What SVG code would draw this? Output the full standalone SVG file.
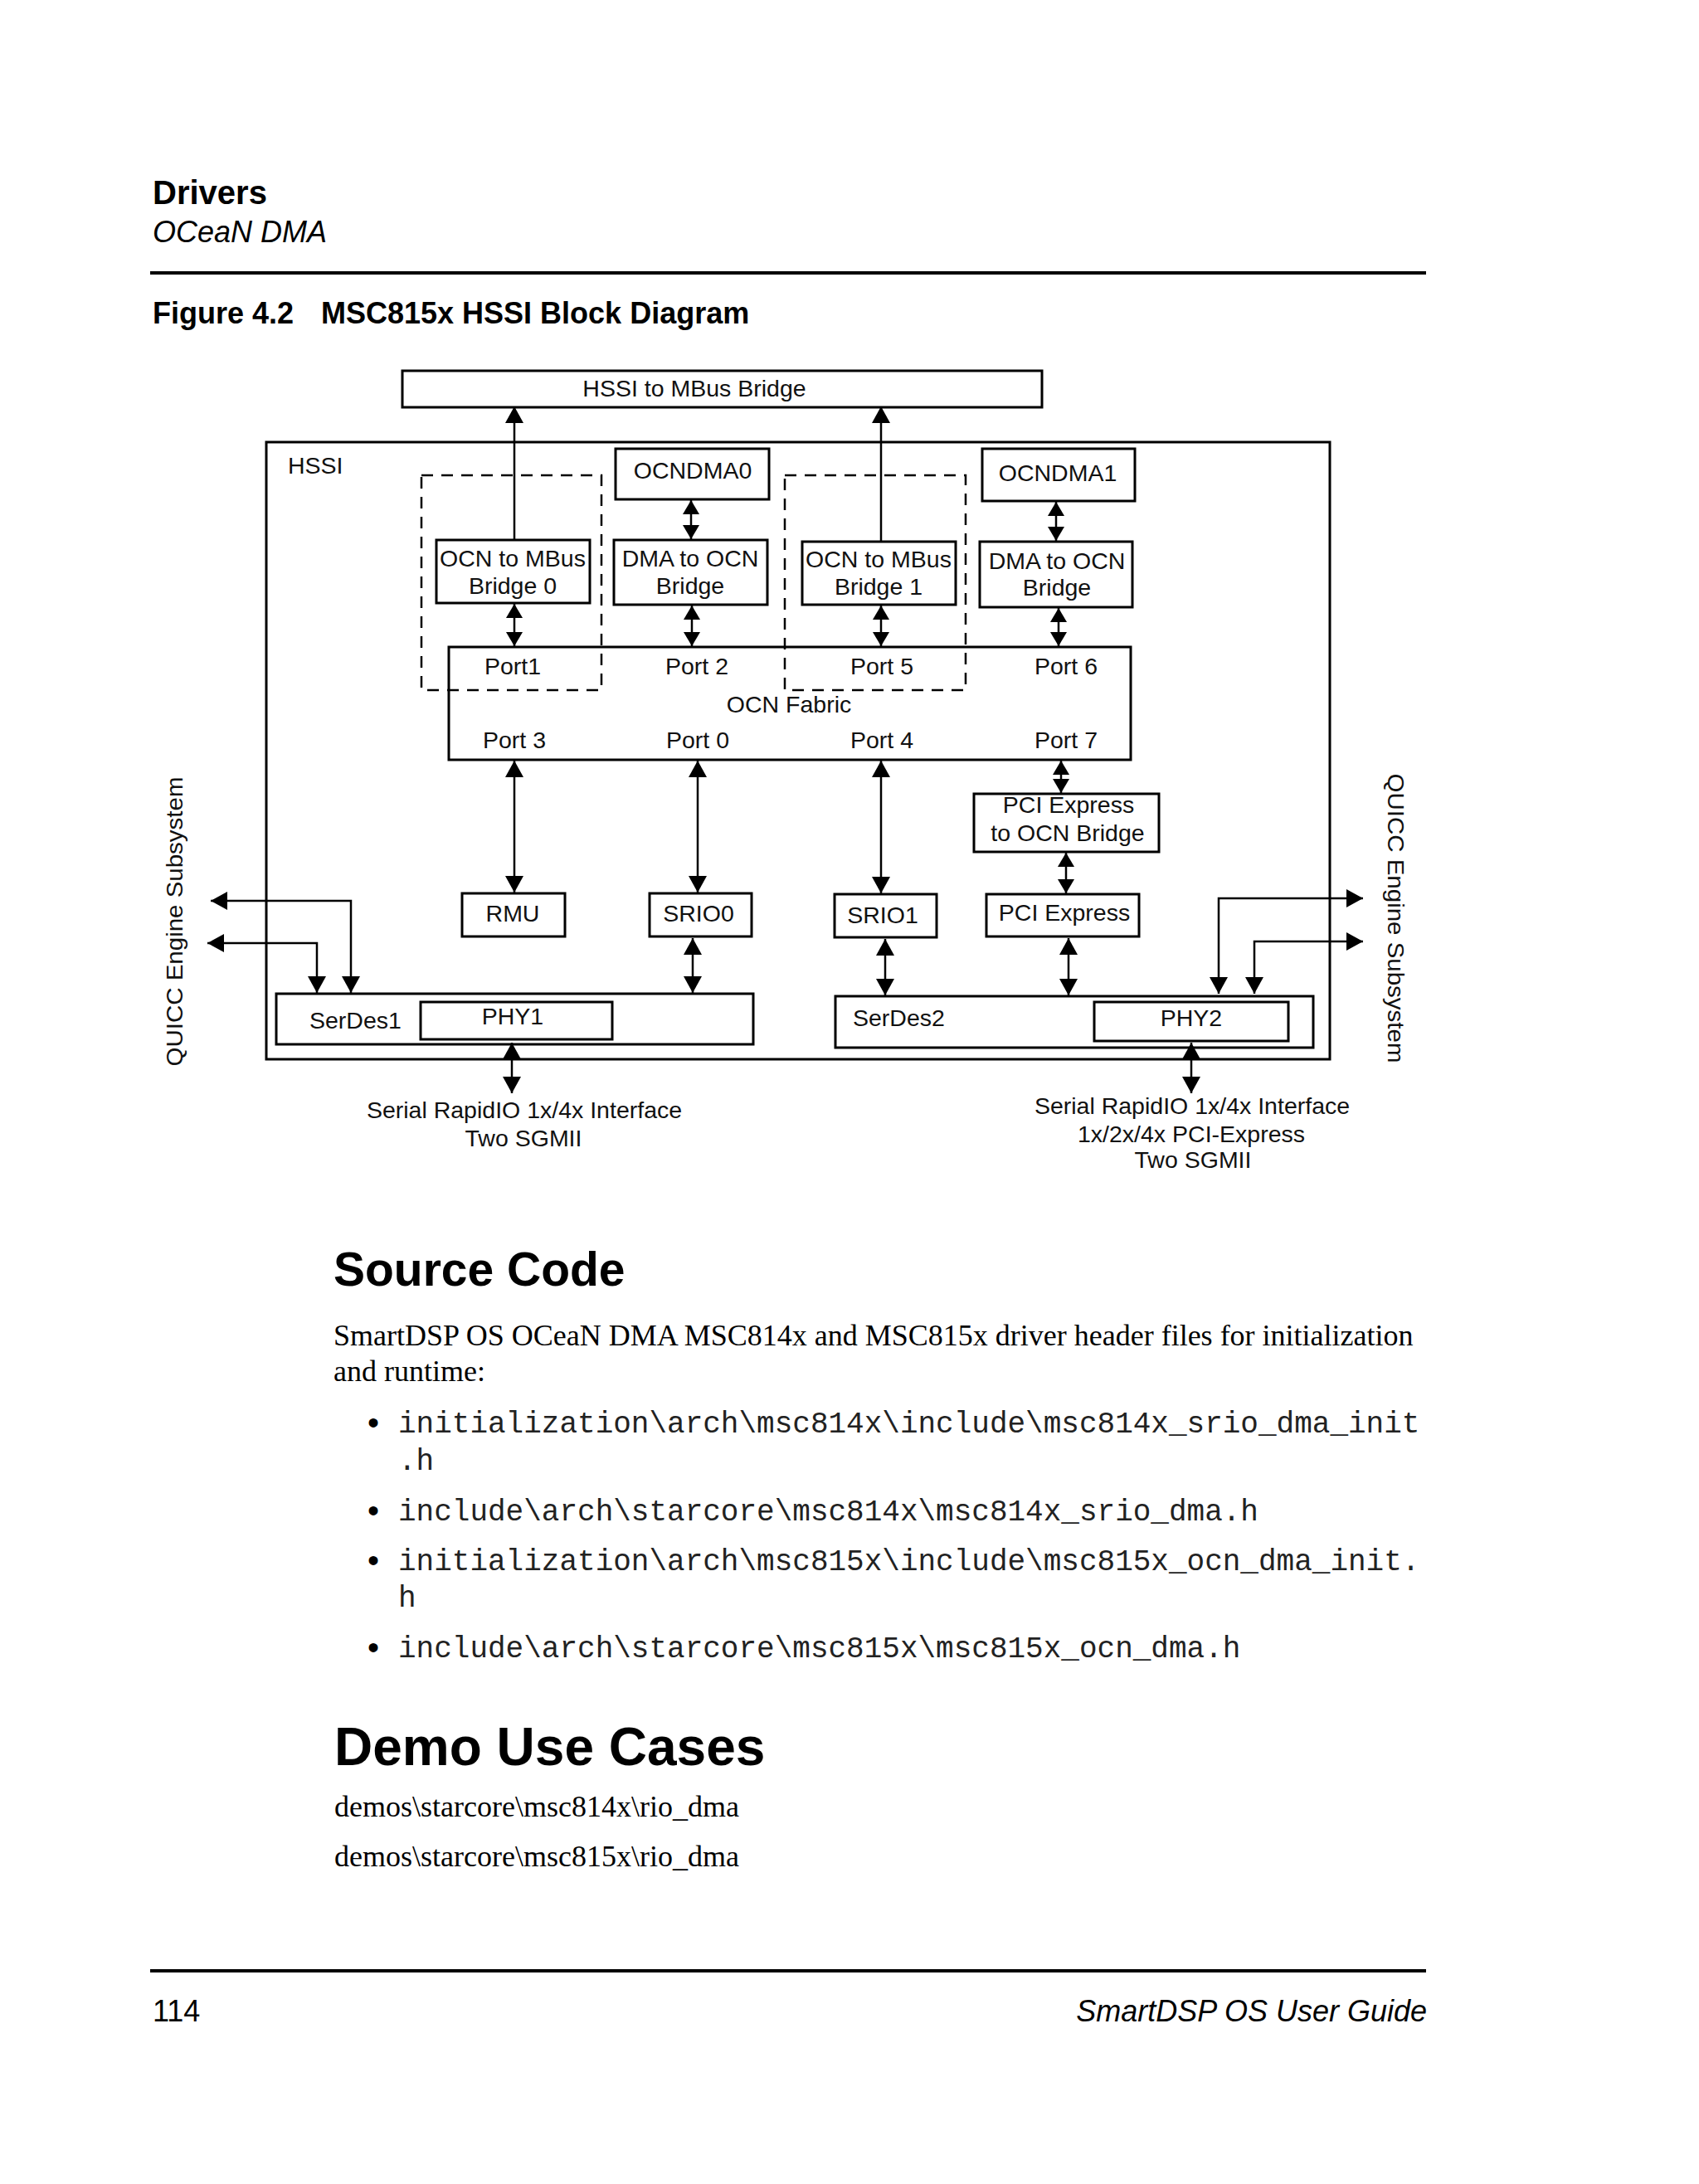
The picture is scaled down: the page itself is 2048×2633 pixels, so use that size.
<svg xmlns="http://www.w3.org/2000/svg" width="2048" height="2633" viewBox="0 0 2048 2633">
<style>
.box{fill:none;stroke:#000;stroke-width:3}
.dash{fill:none;stroke:#000;stroke-width:2.5;stroke-dasharray:14 10}
.c{fill:none;stroke:#000;stroke-width:2.5}
.d{font-family:"Liberation Sans",Arial,sans-serif;font-size:28.5px;fill:#111}
.m{text-anchor:middle}
.sans{font-family:"Liberation Sans",Arial,sans-serif;fill:#000}
.serif{font-family:"Liberation Serif","Times New Roman",serif;font-size:36px;fill:#000}
.mono{font-family:"Liberation Mono","Courier New",monospace;font-size:36px;fill:#222}
.bul{font-family:"Liberation Sans",Arial,sans-serif;font-size:40px;fill:#000}
</style>
<defs>
<marker id="ah" viewBox="0 0 20 22" refX="20" refY="11" markerWidth="20" markerHeight="22" markerUnits="userSpaceOnUse" orient="auto-start-reverse"><path d="M0,0 L20,11 L0,22 z" fill="#000"/></marker>
<marker id="as" viewBox="0 0 17 20" refX="17" refY="10" markerWidth="17" markerHeight="20" markerUnits="userSpaceOnUse" orient="auto-start-reverse"><path d="M0,0 L17,10 L0,20 z" fill="#000"/></marker>
</defs>
<rect width="2048" height="2633" fill="#fff"/>

<!-- page header -->
<text class="sans" x="184" y="246" font-size="40" font-weight="bold">Drivers</text>
<text class="sans" x="184" y="292" font-size="36" font-style="italic">OCeaN DMA</text>
<rect x="181" y="327" width="1538" height="4" fill="#000"/>
<text class="sans" x="184" y="390" font-size="36" font-weight="bold">Figure 4.2</text>
<text class="sans" x="387" y="390" font-size="36" font-weight="bold">MSC815x HSSI Block Diagram</text>

<!-- diagram nodes -->
<g id="hssi-mbus-bridge"><rect class="box" x="485" y="447" width="771" height="44"/><text class="d m" x="837" y="478">HSSI to MBus Bridge</text></g>
<g id="hssi"><rect class="box" x="321" y="533" width="1282" height="744"/><text class="d" x="347" y="571">HSSI</text></g>
<g id="group-bridge0"><rect class="dash" x="508" y="573" width="217" height="259"/></g>
<g id="group-bridge1"><rect class="dash" x="946" y="573" width="218" height="259"/></g>
<g id="ocndma0"><rect class="box" x="742" y="541" width="185" height="61"/><text class="d m" x="835" y="577">OCNDMA0</text></g>
<g id="ocndma1"><rect class="box" x="1184" y="541" width="184" height="63"/><text class="d m" x="1275" y="580">OCNDMA1</text></g>
<g id="ocn-mbus-bridge0"><rect class="box" x="526" y="651" width="185" height="76"/><text class="d m" x="618" y="683">OCN to MBus</text><text class="d m" x="618" y="716">Bridge 0</text></g>
<g id="dma-ocn-bridge0"><rect class="box" x="740" y="651" width="185" height="78"/><text class="d m" x="832" y="683">DMA to OCN</text><text class="d m" x="832" y="716">Bridge</text></g>
<g id="ocn-mbus-bridge1"><rect class="box" x="967" y="653" width="185" height="76"/><text class="d m" x="1059" y="684">OCN to MBus</text><text class="d m" x="1059" y="717">Bridge 1</text></g>
<g id="dma-ocn-bridge1"><rect class="box" x="1181" y="653" width="184" height="79"/><text class="d m" x="1274" y="686">DMA to OCN</text><text class="d m" x="1274" y="718">Bridge</text></g>
<g id="ocn-fabric"><rect class="box" x="541" y="780" width="822" height="136"/>
<text class="d m" x="618" y="813">Port1</text><text class="d m" x="840" y="813">Port 2</text><text class="d m" x="1063" y="813">Port 5</text><text class="d m" x="1285" y="813">Port 6</text>
<text class="d m" x="951" y="859">OCN Fabric</text>
<text class="d m" x="620" y="902">Port 3</text><text class="d m" x="841" y="902">Port 0</text><text class="d m" x="1063" y="902">Port 4</text><text class="d m" x="1285" y="902">Port 7</text></g>
<g id="rmu"><rect class="box" x="557" y="1077" width="124" height="52"/><text class="d m" x="618" y="1111">RMU</text></g>
<g id="srio0"><rect class="box" x="783" y="1077" width="123" height="52"/><text class="d m" x="842" y="1111">SRIO0</text></g>
<g id="srio1"><rect class="box" x="1006" y="1078" width="123" height="52"/><text class="d m" x="1064" y="1113">SRIO1</text></g>
<g id="pcie-ocn-bridge"><rect class="box" x="1174" y="957" width="223" height="70"/><text class="d m" x="1288" y="980">PCI Express</text><text class="d m" x="1287" y="1014">to OCN Bridge</text></g>
<g id="pci-express"><rect class="box" x="1189" y="1078" width="184" height="51"/><text class="d m" x="1283" y="1110">PCI Express</text></g>
<g id="serdes1"><rect class="box" x="333" y="1198" width="575" height="61"/><text class="d" x="373" y="1240">SerDes1</text></g>
<g id="phy1"><rect class="box" x="507" y="1208" width="231" height="45"/><text class="d m" x="618" y="1235">PHY1</text></g>
<g id="serdes2"><rect class="box" x="1007" y="1201" width="576" height="62"/><text class="d" x="1028" y="1237">SerDes2</text></g>
<g id="phy2"><rect class="box" x="1319" y="1208" width="234" height="47"/><text class="d m" x="1436" y="1237">PHY2</text></g>
<g id="quicc-left"><text class="d m" x="220" y="1111" font-size="30" textLength="349" lengthAdjust="spacingAndGlyphs" transform="rotate(-90 220 1111)">QUICC Engine Subsystem</text></g>
<g id="quicc-right"><text class="d m" x="1673" y="1107" font-size="30" textLength="349" lengthAdjust="spacingAndGlyphs" transform="rotate(90 1673 1107)">QUICC Engine Subsystem</text></g>
<g id="iface-left"><text class="d m" x="632" y="1348">Serial RapidIO 1x/4x Interface</text><text class="d m" x="631" y="1382">Two SGMII</text></g>
<g id="iface-right"><text class="d m" x="1437" y="1343">Serial RapidIO 1x/4x Interface</text><text class="d m" x="1436" y="1377">1x/2x/4x PCI-Express</text><text class="d m" x="1438" y="1408">Two SGMII</text></g>

<!-- connectors -->
<g id="connectors">
<line class="c" x1="620" y1="651" x2="620" y2="490" marker-end="url(#ah)"/>
<line class="c" x1="1062" y1="653" x2="1062" y2="490" marker-end="url(#ah)"/>
<line class="c" x1="833" y1="603" x2="833" y2="650" marker-start="url(#as)" marker-end="url(#as)"/>
<line class="c" x1="1273" y1="605" x2="1273" y2="652" marker-start="url(#as)" marker-end="url(#as)"/>
<line class="c" x1="620" y1="728" x2="620" y2="779" marker-start="url(#as)" marker-end="url(#as)"/>
<line class="c" x1="834" y1="730" x2="834" y2="779" marker-start="url(#as)" marker-end="url(#as)"/>
<line class="c" x1="1062" y1="730" x2="1062" y2="779" marker-start="url(#as)" marker-end="url(#as)"/>
<line class="c" x1="1276" y1="733" x2="1276" y2="779" marker-start="url(#as)" marker-end="url(#as)"/>
<line class="c" x1="620" y1="917" x2="620" y2="1076" marker-start="url(#ah)" marker-end="url(#ah)"/>
<line class="c" x1="841" y1="917" x2="841" y2="1076" marker-start="url(#ah)" marker-end="url(#ah)"/>
<line class="c" x1="1062" y1="917" x2="1062" y2="1077" marker-start="url(#ah)" marker-end="url(#ah)"/>
<line class="c" x1="1279" y1="917" x2="1279" y2="956" marker-start="url(#as)" marker-end="url(#as)"/>
<line class="c" x1="1285" y1="1028" x2="1285" y2="1077" marker-start="url(#as)" marker-end="url(#as)"/>
<line class="c" x1="835" y1="1131" x2="835" y2="1197" marker-start="url(#ah)" marker-end="url(#ah)"/>
<line class="c" x1="1067" y1="1132" x2="1067" y2="1200" marker-start="url(#ah)" marker-end="url(#ah)"/>
<line class="c" x1="1288" y1="1131" x2="1288" y2="1200" marker-start="url(#ah)" marker-end="url(#ah)"/>
<line class="c" x1="617" y1="1257" x2="617" y2="1318" marker-start="url(#ah)" marker-end="url(#ah)"/>
<line class="c" x1="1436" y1="1257" x2="1436" y2="1318" marker-start="url(#ah)" marker-end="url(#ah)"/>
<path class="c" d="M254,1086 H423 V1197" marker-start="url(#ah)" marker-end="url(#ah)"/>
<path class="c" d="M250,1137 H382 V1197" marker-start="url(#ah)" marker-end="url(#ah)"/>
<path class="c" d="M1643,1083 H1469 V1198" marker-start="url(#ah)" marker-end="url(#ah)"/>
<path class="c" d="M1643,1135 H1512 V1198" marker-start="url(#ah)" marker-end="url(#ah)"/>
</g>

<!-- body text -->
<text class="sans" x="402" y="1550" font-size="57" font-weight="bold">Source Code</text>
<text class="serif" x="402" y="1622">SmartDSP OS OCeaN DMA MSC814x and MSC815x driver header files for initialization</text>
<text class="serif" x="402" y="1665">and runtime:</text>
<text class="bul" x="443" y="1729">•</text>
<text class="mono" x="480" y="1727">initialization\arch\msc814x\include\msc814x_srio_dma_init</text>
<text class="mono" x="480" y="1772">.h</text>
<text class="bul" x="443" y="1835">•</text>
<text class="mono" x="480" y="1833">include\arch\starcore\msc814x\msc814x_srio_dma.h</text>
<text class="bul" x="443" y="1895">•</text>
<text class="mono" x="480" y="1893">initialization\arch\msc815x\include\msc815x_ocn_dma_init.</text>
<text class="mono" x="480" y="1937">h</text>
<text class="bul" x="443" y="2000">•</text>
<text class="mono" x="480" y="1998">include\arch\starcore\msc815x\msc815x_ocn_dma.h</text>

<text class="sans" x="403" y="2128" font-size="64" font-weight="bold">Demo Use Cases</text>
<text class="serif" x="403" y="2190">demos\starcore\msc814x\rio_dma</text>
<text class="serif" x="403" y="2250">demos\starcore\msc815x\rio_dma</text>

<!-- footer -->
<rect x="181" y="2374" width="1538" height="4" fill="#000"/>
<text class="sans" x="184" y="2437" font-size="36">114</text>
<text class="sans" x="1720" y="2437" font-size="36" font-style="italic" text-anchor="end">SmartDSP OS User Guide</text>
</svg>
